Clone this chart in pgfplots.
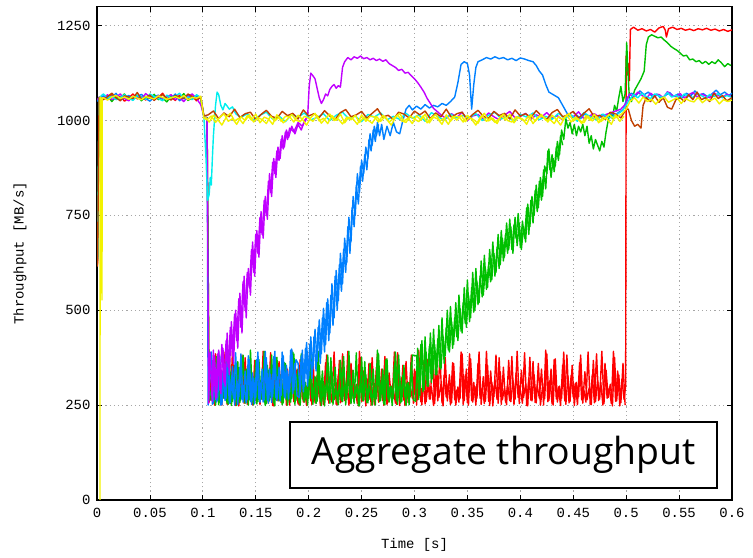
\documentclass[border=0pt]{standalone}
\usepackage{pgfplots}
\pgfplotsset{compat=1.18}
\usepackage{fontspec}
\setmainfont{Liberation Mono}
\newfontfamily\aggfont{Open Sans}
\definecolor{gpred}{RGB}{255,0,0}
\definecolor{gpgreen}{RGB}{0,192,0}
\definecolor{gpblue}{RGB}{0,128,255}
\definecolor{gppurple}{RGB}{192,0,255}
\definecolor{gpcyan}{RGB}{0,238,238}
\definecolor{gpbrown}{RGB}{192,64,0}
\definecolor{gpyellow}{RGB}{242,242,0}
\begin{document}
\begin{tikzpicture}
\useasboundingbox (0,0) rectangle (753bp,558bp);
\begin{axis}[
  at={(97bp,58bp)}, anchor=south west,
  width=635bp, height=493.3bp, scale only axis,
  xmin=0, xmax=0.6, ymin=0, ymax=1300,
  xtick={0,0.05,0.1,0.15,0.2,0.25,0.3,0.35,0.4,0.45,0.5,0.55,0.6},
  xticklabels={0,0.05,0.1,0.15,0.2,0.25,0.3,0.35,0.4,0.45,0.5,0.55,0.6},
  ytick={0,250,500,750,1000,1250},
  yticklabels={0,250,500,750,1000,1250},
  xmajorgrids, ymajorgrids,
  grid style={color=gray!70, dash pattern=on 1.2bp off 3bp, line width=0.8bp},
  major tick length=5bp,
  tick style={black, line width=0.8bp},
  axis line style={line width=1.2bp},
  tick label style={font=\fontsize{14}{16}\selectfont},
  label style={font=\fontsize{14}{16}\selectfont},
  xticklabel style={yshift=-5bp},
  yticklabel style={xshift=-3bp},
  xlabel={Time [s]}, ylabel={Throughput [MB/s]},
  xlabel style={at={(axis description cs:0.5,-0.0912)}, anchor=center},
  ylabel style={at={(axis description cs:-0.1213,0.5)}, anchor=center},
  no markers,
  every axis plot/.append style={line width=1.4bp, line join=round},
]
% red
\addplot[gpred] coordinates {
(0.0005,625)(0.002,1060)
(0.006,1062)(0.010,1055)(0.014,1068)(0.018,1058)(0.022,1064)(0.026,1051)(0.030,1060)(0.034,1070)(0.038,1057)(0.042,1063)(0.046,1054)(0.050,1066)(0.054,1059)(0.058,1061)(0.062,1072)(0.066,1056)(0.070,1062)(0.074,1053)(0.078,1067)(0.082,1060)(0.086,1058)(0.090,1065)(0.094,1052)(0.098,1063)
(0.101,1012)(0.104,1005)(0.106,258)
(0.108,330)(0.110,256)(0.112,385)(0.114,262)(0.116,310)(0.118,250)(0.120,360)(0.122,268)(0.124,295)(0.126,254)(0.128,392)(0.130,260)(0.132,340)(0.134,248)(0.136,318)(0.138,265)(0.140,375)(0.142,252)(0.144,350)(0.146,258)
(0.148,305)(0.150,262)(0.152,378)(0.154,251)(0.156,335)(0.158,270)(0.160,290)(0.162,255)(0.164,388)(0.166,249)(0.168,322)(0.170,263)(0.172,365)(0.174,257)(0.176,300)(0.178,268)(0.180,345)(0.182,250)(0.184,395)(0.186,259)
(0.188,315)(0.190,253)(0.192,370)(0.194,266)(0.196,298)(0.198,249)(0.200,355)(0.202,261)(0.204,382)(0.206,256)(0.208,328)(0.210,271)(0.212,308)(0.214,251)(0.216,362)(0.218,264)(0.220,290)(0.222,258)(0.224,390)(0.226,252)
(0.228,330)(0.230,256)(0.232,385)(0.234,262)(0.236,310)(0.238,250)(0.240,360)(0.242,268)(0.244,295)(0.246,254)(0.248,392)(0.250,260)(0.252,340)(0.254,248)(0.256,318)(0.258,265)(0.260,375)(0.262,252)(0.264,350)(0.266,258)
(0.268,305)(0.270,262)(0.272,378)(0.274,251)(0.276,335)(0.278,270)(0.280,290)(0.282,255)(0.284,388)(0.286,249)(0.288,322)(0.290,263)(0.292,365)(0.294,257)(0.296,300)(0.298,268)(0.300,345)(0.302,250)(0.304,395)(0.306,259)
(0.308,315)(0.310,253)(0.312,370)(0.314,266)(0.316,298)(0.318,249)(0.320,355)(0.322,261)(0.324,382)(0.326,256)(0.328,328)(0.330,271)(0.332,308)(0.334,251)(0.336,362)(0.338,264)(0.340,290)(0.342,258)(0.344,390)(0.346,252)
(0.348,330)(0.350,256)(0.352,385)(0.354,262)(0.356,310)(0.358,250)(0.360,360)(0.362,268)(0.364,295)(0.366,254)(0.368,392)(0.370,260)(0.372,340)(0.374,248)(0.376,318)(0.378,265)(0.380,375)(0.382,252)(0.384,350)(0.386,258)
(0.388,305)(0.390,262)(0.392,378)(0.394,251)(0.396,335)(0.398,270)(0.400,290)(0.402,255)(0.404,388)(0.406,249)(0.408,322)(0.410,263)(0.412,365)(0.414,257)(0.416,300)(0.418,268)(0.420,345)(0.422,250)(0.424,395)(0.426,259)
(0.428,315)(0.430,253)(0.432,370)(0.434,266)(0.436,298)(0.438,249)(0.440,355)(0.442,261)(0.444,382)(0.446,256)(0.448,328)(0.450,271)(0.452,308)(0.454,251)(0.456,362)(0.458,264)(0.460,290)(0.462,258)(0.464,390)(0.466,252)
(0.468,330)(0.470,256)(0.472,385)(0.474,262)(0.476,310)(0.478,250)(0.480,360)(0.482,268)(0.484,295)(0.486,254)(0.488,392)(0.490,260)(0.492,340)(0.494,248)(0.496,318)(0.498,265)
(0.4995,300)(0.500,1170)(0.501,1120)(0.502,1150)(0.503,1105)(0.504,1240)(0.507,1246)(0.511,1238)(0.515,1242)(0.519,1236)(0.523,1240)(0.527,1233)(0.531,1244)(0.535,1248)(0.537,1238)(0.538,1220)(0.540,1242)(0.544,1246)(0.548,1240)(0.552,1243)(0.556,1238)(0.560,1241)(0.564,1237)(0.568,1242)(0.572,1239)(0.576,1243)(0.580,1238)(0.584,1241)(0.588,1236)(0.592,1240)(0.596,1235)(0.600,1239)
};
\addplot[gpred] coordinates {
(0.107,262)(0.109,345)(0.111,250)(0.113,372)(0.115,258)(0.117,300)(0.119,268)(0.121,390)(0.123,252)(0.125,325)(0.127,260)(0.129,355)(0.131,249)(0.133,310)(0.135,272)(0.137,382)(0.139,255)(0.141,338)(0.143,264)(0.145,295)
(0.147,251)(0.149,368)(0.151,259)(0.153,315)(0.155,266)(0.157,392)(0.159,254)(0.161,342)(0.163,270)(0.165,305)(0.167,248)(0.169,376)(0.171,261)(0.173,330)(0.175,256)(0.177,360)(0.179,250)(0.181,298)(0.183,267)(0.185,385)
(0.187,262)(0.189,345)(0.191,250)(0.193,372)(0.195,258)(0.197,300)(0.199,268)(0.201,390)(0.203,252)(0.205,325)(0.207,260)(0.209,355)(0.211,249)(0.213,310)(0.215,272)(0.217,382)(0.219,255)(0.221,338)(0.223,264)(0.225,295)
(0.227,251)(0.229,368)(0.231,259)(0.233,315)(0.235,266)(0.237,392)(0.239,254)(0.241,342)(0.243,270)(0.245,305)(0.247,248)(0.249,376)(0.251,261)(0.253,330)(0.255,256)(0.257,360)(0.259,250)(0.261,298)(0.263,267)(0.265,385)
(0.267,262)(0.269,345)(0.271,250)(0.273,372)(0.275,258)(0.277,300)(0.279,268)(0.281,390)(0.283,252)(0.285,325)(0.287,260)(0.289,355)(0.291,249)(0.293,310)(0.295,272)(0.297,382)(0.299,255)(0.301,338)(0.303,264)(0.305,295)
(0.307,251)(0.309,368)(0.311,259)(0.313,315)(0.315,266)(0.317,392)(0.319,254)(0.321,342)(0.323,270)(0.325,305)(0.327,248)(0.329,376)(0.331,261)(0.333,330)(0.335,256)(0.337,360)(0.339,250)(0.341,298)(0.343,267)(0.345,385)
(0.347,262)(0.349,345)(0.351,250)(0.353,372)(0.355,258)(0.357,300)(0.359,268)(0.361,390)(0.363,252)(0.365,325)(0.367,260)(0.369,355)(0.371,249)(0.373,310)(0.375,272)(0.377,382)(0.379,255)(0.381,338)(0.383,264)(0.385,295)
(0.387,251)(0.389,368)(0.391,259)(0.393,315)(0.395,266)(0.397,392)(0.399,254)(0.401,342)(0.403,270)(0.405,305)(0.407,248)(0.409,376)(0.411,261)(0.413,330)(0.415,256)(0.417,360)(0.419,250)(0.421,298)(0.423,267)(0.425,385)
(0.427,262)(0.429,345)(0.431,250)(0.433,372)(0.435,258)(0.437,300)(0.439,268)(0.441,390)(0.443,252)(0.445,325)(0.447,260)(0.449,355)(0.451,249)(0.453,310)(0.455,272)(0.457,382)(0.459,255)(0.461,338)(0.463,264)(0.465,295)
(0.467,251)(0.469,368)(0.471,259)(0.473,315)(0.475,266)(0.477,392)(0.479,254)(0.481,342)(0.483,270)(0.485,305)(0.487,248)(0.489,376)(0.491,261)(0.493,330)(0.495,256)(0.497,360)(0.499,250)
};
% green
\addplot[gpgreen] coordinates {
(0.0005,635)(0.002,1060)
(0.006,1057)(0.010,1066)(0.014,1050)(0.018,1063)(0.022,1059)(0.026,1070)(0.030,1054)(0.034,1061)(0.038,1067)(0.042,1052)(0.046,1064)(0.050,1058)(0.054,1069)(0.058,1055)(0.062,1060)(0.066,1049)(0.070,1065)(0.074,1062)(0.078,1056)(0.082,1071)(0.086,1053)(0.090,1060)(0.094,1066)(0.098,1058)
(0.101,1010)(0.104,1008)(0.106,262)
(0.109,305)(0.111,262)(0.113,378)(0.115,251)(0.117,335)(0.119,270)(0.121,290)(0.123,255)(0.125,388)(0.127,249)(0.129,322)(0.131,263)(0.133,365)(0.135,257)(0.137,300)(0.139,268)(0.141,345)(0.143,250)(0.145,395)(0.147,259)
(0.149,315)(0.151,253)(0.153,370)(0.155,266)(0.157,298)(0.159,249)(0.161,355)(0.163,261)(0.165,382)(0.167,256)(0.169,328)(0.171,271)(0.173,308)(0.175,251)(0.177,362)(0.179,264)(0.181,290)(0.183,258)(0.185,390)(0.187,252)
(0.189,330)(0.191,256)(0.193,385)(0.195,262)(0.197,310)(0.199,250)(0.201,360)(0.203,268)(0.205,295)(0.207,254)(0.209,392)(0.211,260)(0.213,340)(0.215,248)(0.217,318)(0.219,265)(0.221,375)(0.223,252)(0.225,350)(0.227,258)
(0.229,305)(0.231,262)(0.233,378)(0.235,251)(0.237,335)(0.239,270)(0.241,290)(0.243,255)(0.245,388)(0.247,249)(0.249,322)(0.251,263)(0.253,365)(0.255,257)(0.257,300)(0.259,268)(0.261,345)(0.263,250)(0.265,395)(0.267,259)
(0.269,315)(0.271,253)(0.273,370)(0.275,266)(0.277,298)(0.279,249)(0.281,355)(0.283,261)(0.285,382)(0.287,256)(0.289,328)(0.291,271)(0.293,308)(0.295,251)(0.297,362)(0.299,264)
(0.301,260)(0.303,400)(0.305,275)(0.307,420)(0.309,290)(0.311,390)(0.313,300)(0.315,440)(0.317,320)(0.319,410)(0.321,330)(0.323,460)(0.325,345)(0.327,430)(0.329,380)(0.331,500)(0.333,390)(0.335,470)(0.337,410)(0.339,520)
(0.341,420)(0.343,505)(0.345,440)(0.347,560)(0.349,455)(0.351,540)(0.353,480)(0.355,600)(0.357,500)(0.359,575)(0.361,520)(0.363,630)(0.365,540)(0.367,610)(0.369,560)(0.371,660)(0.373,580)(0.375,650)(0.377,600)(0.379,700)
(0.381,620)(0.383,690)(0.385,640)(0.387,730)(0.389,660)(0.391,720)(0.393,650)(0.395,745)(0.397,670)(0.399,730)(0.401,660)(0.403,720)(0.405,680)(0.407,780)(0.409,720)(0.411,800)(0.413,750)(0.415,830)(0.417,770)(0.419,850)
(0.421,800)(0.423,880)(0.425,860)(0.427,925)(0.429,850)(0.431,900)(0.433,880)(0.435,945)(0.437,910)(0.439,975)(0.441,950)(0.443,1005)(0.445,980)(0.447,995)(0.449,965)(0.451,990)(0.453,960)(0.455,985)(0.457,970)(0.459,990)
(0.461,960)(0.463,985)(0.465,940)(0.467,960)(0.469,925)(0.471,950)(0.473,935)(0.475,920)(0.477,945)(0.479,930)(0.481,970)(0.483,1000)(0.485,1020)(0.487,1005)(0.489,1040)(0.491,1025)(0.493,1060)(0.495,1090)(0.497,1050)(0.499,1070)
(0.5005,1205)(0.5015,1140)(0.503,1060)(0.505,1050)(0.508,1080)(0.511,1095)(0.514,1110)(0.517,1130)(0.519,1200)(0.521,1220)(0.524,1226)(0.527,1222)(0.530,1218)(0.533,1220)(0.536,1212)(0.539,1205)(0.542,1196)(0.545,1190)(0.548,1185)(0.551,1178)
(0.554,1170)(0.557,1172)(0.560,1160)(0.563,1162)(0.566,1155)(0.569,1158)(0.572,1150)(0.575,1156)(0.578,1148)(0.581,1155)(0.584,1150)(0.587,1160)(0.590,1152)(0.593,1142)(0.596,1150)(0.599,1145)
};
\addplot[gpgreen] coordinates {
(0.108,262)(0.110,345)(0.112,250)(0.114,372)(0.116,258)(0.118,300)(0.120,268)(0.122,390)(0.124,252)(0.126,325)(0.128,260)(0.130,355)(0.132,249)(0.134,310)(0.136,272)(0.138,382)(0.140,255)(0.142,338)(0.144,264)(0.146,295)
(0.148,251)(0.150,368)(0.152,259)(0.154,315)(0.156,266)(0.158,392)(0.160,254)(0.162,342)(0.164,270)(0.166,305)(0.168,248)(0.170,376)(0.172,261)(0.174,330)(0.176,256)(0.178,360)(0.180,250)(0.182,298)(0.184,267)(0.186,385)
(0.188,262)(0.190,345)(0.192,250)(0.194,372)(0.196,258)(0.198,300)(0.200,268)(0.202,390)(0.204,252)(0.206,325)(0.208,260)(0.210,355)(0.212,249)(0.214,310)(0.216,272)(0.218,382)(0.220,255)(0.222,338)(0.224,264)(0.226,295)
(0.228,251)(0.230,368)(0.232,259)(0.234,315)(0.236,266)(0.238,392)(0.240,254)(0.242,342)(0.244,270)(0.246,305)(0.248,248)(0.250,376)(0.252,261)(0.254,330)(0.256,256)(0.258,360)(0.260,250)(0.262,298)(0.264,267)(0.266,385)
(0.268,262)(0.270,345)(0.272,250)(0.274,372)(0.276,258)(0.278,300)(0.280,268)(0.282,390)(0.284,252)(0.286,325)(0.288,260)(0.290,355)(0.292,249)(0.294,310)(0.296,272)(0.298,382)
(0.302,380)(0.304,265)(0.306,410)(0.308,285)(0.310,430)(0.312,300)(0.314,405)(0.316,310)(0.318,450)(0.320,330)(0.322,425)(0.324,350)(0.326,480)(0.328,360)(0.330,455)(0.332,395)(0.334,510)(0.336,400)(0.338,480)(0.340,430)
(0.342,540)(0.344,445)(0.346,520)(0.348,465)(0.350,580)(0.352,470)(0.354,560)(0.356,495)(0.358,610)(0.360,515)(0.362,590)(0.364,535)(0.366,645)(0.368,555)(0.370,620)(0.372,575)(0.374,680)(0.376,590)(0.378,665)(0.380,610)
(0.382,710)(0.384,630)(0.386,700)(0.388,650)(0.390,740)(0.392,660)(0.394,725)(0.396,690)(0.398,755)(0.400,665)(0.402,735)(0.404,690)(0.406,770)(0.408,700)(0.410,790)(0.412,730)(0.414,815)(0.416,760)(0.418,840)(0.420,790)
(0.422,870)(0.424,820)(0.426,920)(0.428,870)(0.430,910)(0.432,865)(0.434,930)(0.436,895)(0.438,960)(0.440,935)
};
% blue
\addplot[gpblue] coordinates {
(0.0005,1050)(0.002,1060)
(0.006,1065)(0.010,1058)(0.014,1061)(0.018,1072)(0.022,1054)(0.026,1060)(0.030,1066)(0.034,1056)(0.038,1063)(0.042,1069)(0.046,1058)(0.050,1051)(0.054,1062)(0.058,1067)(0.062,1055)(0.066,1064)(0.070,1059)(0.074,1070)(0.078,1052)(0.082,1061)(0.086,1066)(0.090,1057)(0.094,1063)(0.098,1060)
(0.101,1008)(0.104,1004)(0.105,250)
(0.107,385)(0.109,252)(0.111,360)(0.113,258)(0.115,392)(0.117,250)(0.119,340)(0.121,262)(0.123,375)(0.125,255)(0.127,318)(0.129,268)(0.131,388)(0.133,251)(0.135,350)(0.137,264)(0.139,300)(0.141,256)(0.143,380)(0.145,260)
(0.147,335)(0.149,254)(0.151,370)(0.153,266)(0.155,310)(0.157,258)(0.159,392)(0.161,262)(0.163,345)(0.165,257)(0.167,378)(0.169,270)(0.171,325)(0.173,261)(0.175,390)(0.177,272)(0.179,355)(0.181,266)(0.183,395)(0.185,280)
(0.187,360)(0.189,275)
(0.191,270)(0.193,380)(0.195,285)(0.197,400)(0.199,300)(0.201,410)(0.203,320)(0.205,430)(0.207,340)(0.209,455)(0.211,360)(0.213,480)(0.215,390)(0.217,520)(0.219,420)(0.221,540)(0.223,460)(0.225,590)(0.227,500)(0.229,620)
(0.231,550)(0.233,660)(0.235,600)(0.237,720)(0.239,650)(0.241,770)(0.243,720)(0.245,830)(0.247,780)(0.249,880)(0.251,840)(0.253,910)(0.255,870)(0.257,950)(0.259,920)(0.261,975)(0.263,945)(0.265,995)(0.267,960)(0.269,990)
(0.271,950)(0.274,985)(0.277,960)(0.280,995)(0.283,970)(0.286,965)(0.289,1000)(0.292,1030)(0.295,1040)(0.298,1028)(0.302,1038)(0.306,1030)(0.310,1042)(0.314,1033)(0.318,1040)(0.322,1036)(0.326,1045)(0.330,1040)(0.334,1050)(0.338,1062)
(0.341,1100)(0.344,1148)(0.347,1155)(0.350,1150)(0.352,1120)(0.354,1030)(0.356,1095)(0.358,1140)(0.360,1155)(0.364,1160)(0.368,1166)(0.372,1162)(0.376,1168)(0.380,1163)(0.384,1166)(0.388,1160)(0.392,1164)(0.396,1158)(0.400,1165)(0.404,1162)
(0.408,1158)(0.412,1155)(0.415,1145)(0.418,1130)(0.421,1120)(0.424,1095)(0.427,1075)(0.430,1070)(0.433,1065)(0.436,1060)(0.439,1045)(0.442,1030)(0.445,1015)(0.449,1008)(0.453,1015)(0.457,1005)(0.461,1018)(0.465,1008)(0.469,1012)(0.473,1003)
(0.477,1016)(0.481,1010)(0.485,1020)(0.489,1012)(0.493,1022)(0.497,1028)(0.501,1060)(0.505,1072)(0.509,1065)(0.513,1078)(0.517,1068)(0.521,1075)(0.525,1062)(0.529,1070)(0.533,1058)(0.537,1066)(0.541,1074)(0.545,1063)(0.549,1070)(0.553,1060)
(0.557,1072)(0.561,1065)(0.565,1078)(0.569,1066)(0.573,1071)(0.577,1062)(0.581,1070)(0.585,1080)(0.589,1068)(0.593,1075)(0.597,1066)(0.600,1072)
};
\addplot[gpblue] coordinates {
(0.106,300)(0.108,390)(0.110,255)(0.112,345)(0.114,262)(0.116,380)(0.118,251)(0.120,330)(0.122,268)(0.124,395)(0.126,256)(0.128,352)(0.130,250)(0.132,315)(0.134,272)(0.136,385)(0.138,258)(0.140,340)(0.142,265)(0.144,370)
(0.146,252)(0.148,320)(0.150,269)(0.152,390)(0.154,257)(0.156,345)(0.158,264)(0.160,375)(0.162,255)(0.164,330)(0.166,273)(0.168,392)(0.170,262)(0.172,350)(0.174,276)(0.176,380)(0.178,268)(0.180,340)(0.182,285)(0.184,398)
(0.186,290)(0.188,370)(0.190,360)(0.192,285)(0.194,395)(0.196,300)(0.198,415)(0.200,320)(0.202,430)(0.204,345)(0.206,450)(0.208,365)(0.210,475)(0.212,385)(0.214,505)(0.216,410)(0.218,530)(0.220,440)(0.222,570)(0.224,480)
(0.226,605)(0.228,525)(0.230,650)(0.232,570)(0.234,690)(0.236,625)(0.238,745)(0.240,680)(0.242,800)(0.244,750)(0.246,860)(0.248,810)(0.250,895)(0.252,860)(0.254,930)(0.256,900)(0.258,965)(0.260,935)(0.262,985)(0.264,960)
(0.266,990)
};
% purple
\addplot[gppurple] coordinates {
(0.0005,1055)(0.002,1062)
(0.006,1059)(0.010,1068)(0.014,1055)(0.018,1062)(0.022,1070)(0.026,1058)(0.030,1052)(0.034,1064)(0.038,1060)(0.042,1057)(0.046,1071)(0.050,1062)(0.054,1054)(0.058,1066)(0.062,1059)(0.066,1063)(0.070,1068)(0.074,1055)(0.078,1061)(0.082,1050)(0.086,1064)(0.090,1070)(0.094,1058)(0.098,1042)
(0.101,1012)(0.104,1006)(0.1055,255)
(0.107,390)(0.109,260)(0.111,380)(0.113,270)(0.115,395)(0.117,280)(0.119,400)(0.121,300)(0.123,440)(0.125,330)(0.127,470)(0.129,360)(0.131,500)(0.133,400)(0.135,545)(0.137,440)(0.139,590)(0.141,480)(0.143,610)(0.145,540)
(0.147,680)(0.149,590)(0.151,710)(0.153,640)(0.155,760)(0.157,690)(0.159,800)(0.161,740)(0.163,860)(0.165,800)(0.167,900)(0.169,850)(0.171,930)(0.173,900)(0.175,960)(0.177,930)(0.179,975)(0.181,955)(0.184,985)(0.187,965)
(0.190,990)(0.193,975)(0.196,1000)(0.199,1010)(0.2005,1090)(0.202,1125)(0.204,1118)(0.206,1110)(0.208,1085)(0.210,1060)(0.212,1045)(0.214,1055)(0.216,1070)(0.218,1065)(0.220,1082)(0.222,1090)(0.224,1095)(0.226,1085)(0.228,1092)(0.230,1088)
(0.232,1140)(0.234,1155)(0.237,1166)(0.240,1160)(0.243,1168)(0.246,1164)(0.249,1170)(0.252,1163)(0.255,1166)(0.258,1160)(0.261,1164)(0.264,1158)(0.267,1162)(0.270,1156)(0.273,1160)(0.276,1150)(0.279,1145)(0.282,1140)(0.285,1132)(0.288,1135)
(0.291,1125)(0.294,1127)(0.297,1118)(0.300,1110)(0.303,1100)(0.306,1088)(0.309,1075)(0.312,1058)(0.315,1045)(0.318,1032)(0.321,1025)(0.325,1015)
(0.330,1005)(0.335,1018)(0.340,1008)(0.345,1022)(0.350,1000)(0.355,1012)(0.360,1016)(0.365,1004)(0.370,1020)(0.375,1010)(0.380,1002)(0.385,1014)(0.390,1024)(0.395,1007)(0.400,1011)(0.405,1019)(0.410,1003)(0.415,1015)(0.420,1009)(0.425,1021)
(0.430,1006)(0.435,1013)(0.440,1001)(0.445,1017)(0.450,1010)(0.455,1023)(0.460,1005)(0.465,1012)(0.470,1018)(0.475,1008)(0.480,1015)(0.485,1020)(0.490,1025)(0.495,1030)(0.500,1045)
(0.503,1070)(0.507,1062)(0.511,1075)(0.515,1066)(0.519,1058)(0.523,1072)(0.527,1064)(0.531,1069)(0.535,1060)(0.539,1076)(0.543,1067)(0.547,1063)(0.551,1071)(0.555,1059)(0.559,1068)(0.563,1074)(0.567,1062)(0.571,1070)(0.575,1065)(0.579,1060)
(0.583,1073)(0.587,1066)(0.591,1061)(0.595,1069)(0.599,1064)
};
\addplot[gppurple] coordinates {
(0.108,275)(0.110,395)(0.112,265)(0.114,385)(0.116,290)(0.118,410)(0.120,310)(0.122,420)(0.124,350)(0.126,455)(0.128,380)(0.130,490)(0.132,420)(0.134,530)(0.136,455)(0.138,575)(0.140,500)(0.142,600)(0.144,560)(0.146,660)
(0.148,600)(0.150,700)(0.152,650)(0.154,745)(0.156,700)(0.158,790)(0.160,750)(0.162,840)(0.164,810)(0.166,890)(0.168,860)(0.170,920)(0.172,895)(0.174,950)(0.176,925)(0.178,970)(0.180,950)(0.182,980)(0.186,970)(0.190,995)
(0.194,985)(0.198,1005)
};
% cyan
\addplot[gpcyan] coordinates {
(0.0005,630)(0.002,1060)
(0.006,1070)(0.010,1060)(0.014,1064)(0.018,1055)(0.022,1061)(0.026,1068)(0.030,1059)(0.034,1053)(0.038,1066)(0.042,1062)(0.046,1056)(0.050,1070)(0.054,1063)(0.058,1058)(0.062,1052)(0.066,1067)(0.070,1060)(0.074,1064)(0.078,1072)(0.082,1057)(0.086,1062)(0.090,1055)(0.094,1068)(0.098,1061)
(0.101,1010)(0.103,900)(0.1045,790)(0.106,805)(0.107,850)(0.108,830)(0.109,900)(0.110,960)(0.112,1040)(0.1135,1075)(0.115,1068)(0.117,1040)(0.119,1028)(0.121,1045)(0.123,1038)(0.125,1030)(0.128,1036)(0.131,1018)
(0.136,1008)(0.142,1018)(0.148,1000)(0.154,1014)(0.160,1022)(0.166,1004)(0.172,1012)(0.178,997)(0.184,1016)(0.190,1009)(0.196,1020)(0.202,1002)
(0.208,1008)(0.214,1018)(0.220,1000)(0.226,1014)(0.232,1022)(0.238,1004)(0.244,1012)(0.250,997)(0.256,1016)(0.262,1009)(0.268,1020)(0.274,1002)
(0.280,1011)(0.286,1003)(0.292,1019)(0.298,1006)(0.304,1015)(0.310,998)(0.316,1021)(0.322,1010)(0.328,1001)(0.334,1017)(0.340,1007)(0.346,1013)
(0.352,1008)(0.358,1018)(0.364,1000)(0.370,1014)(0.376,1022)(0.382,1004)(0.388,1012)(0.394,997)(0.400,1016)(0.406,1009)(0.412,1020)(0.418,1002)
(0.424,1011)(0.430,1003)(0.436,1019)(0.442,1006)(0.448,1015)(0.454,998)(0.460,1021)(0.466,1010)(0.472,1001)(0.478,1017)(0.484,1007)(0.490,1013)
(0.496,1025)(0.500,1040)
(0.503,1055)(0.507,1068)(0.511,1060)(0.515,1072)(0.519,1063)(0.523,1058)(0.527,1070)(0.531,1065)(0.535,1060)(0.539,1074)(0.543,1062)(0.547,1067)(0.551,1058)(0.555,1070)(0.559,1064)(0.563,1061)(0.567,1072)(0.571,1066)(0.575,1059)(0.579,1069)
(0.583,1063)(0.587,1071)(0.591,1060)(0.595,1066)(0.599,1062)
};
% brown
\addplot[gpbrown] coordinates {
(0.0005,615)(0.002,1060)
(0.006,1055)(0.010,1063)(0.014,1072)(0.018,1060)(0.022,1052)(0.026,1065)(0.030,1062)(0.034,1058)(0.038,1074)(0.042,1056)(0.046,1061)(0.050,1067)(0.054,1053)(0.058,1063)(0.062,1068)(0.066,1059)(0.070,1054)(0.074,1066)(0.078,1062)(0.082,1058)(0.086,1070)(0.090,1063)(0.094,1056)(0.098,1060)
(0.101,1012)
(0.105,1015)(0.110,1025)(0.115,1005)(0.120,1020)(0.125,1010)(0.130,1030)(0.135,1008)(0.140,1018)(0.145,1022)(0.150,1002)(0.155,1016)(0.160,1027)(0.165,1011)(0.170,1006)(0.175,1024)(0.180,1013)(0.185,1019)(0.190,1004)(0.195,1028)(0.200,1012)
(0.205,1018)(0.210,1008)(0.215,1026)(0.220,1012)(0.225,1003)(0.230,1021)(0.235,1029)(0.240,1010)(0.245,1015)(0.250,1024)(0.255,1006)(0.260,1019)(0.265,1031)(0.270,1009)(0.275,1014)(0.280,1003)(0.285,1022)(0.290,1017)(0.295,1007)(0.300,1025)
(0.305,1015)(0.310,1025)(0.315,1005)(0.320,1020)(0.325,1010)(0.330,1030)(0.335,1008)(0.340,1018)(0.345,1022)(0.350,1002)(0.355,1016)(0.360,1027)(0.365,1011)(0.370,1006)(0.375,1024)(0.380,1013)(0.385,1019)(0.390,1004)(0.395,1028)(0.400,1012)
(0.405,1018)(0.410,1008)(0.415,1026)(0.420,1012)(0.425,1003)(0.430,1021)(0.435,1029)(0.440,1010)(0.445,1015)(0.450,1024)(0.455,1006)(0.460,1019)(0.465,1031)(0.470,1009)(0.475,1014)(0.480,1003)(0.485,1022)(0.490,1017)(0.495,1007)
(0.500,1030)(0.502,1030)(0.505,1000)(0.508,985)(0.511,990)(0.514,980)(0.516,1040)(0.519,1060)(0.523,1050)(0.527,1065)(0.531,1048)(0.535,1060)(0.539,1035)(0.543,1030)(0.547,1055)(0.551,1060)(0.555,1050)(0.559,1068)(0.563,1055)(0.567,1075)
(0.571,1055)(0.575,1060)(0.579,1050)(0.583,1072)(0.587,1058)(0.591,1066)(0.595,1052)(0.600,1060)
};
% yellow
\addplot[gpyellow] coordinates {
(0.0028,0)(0.003,1062)(0.004,1058)(0.0047,527)(0.005,1060)
(0.006,1060)(0.010,1054)(0.014,1062)(0.018,1066)(0.022,1058)(0.026,1062)(0.030,1056)(0.034,1064)(0.038,1059)(0.042,1055)(0.046,1063)(0.050,1060)(0.054,1057)(0.058,1065)(0.062,1061)(0.066,1056)(0.070,1060)(0.074,1063)(0.078,1058)(0.082,1066)(0.086,1055)(0.090,1061)(0.094,1059)(0.098,1064)
(0.101,1006)
(0.104,1002)(0.108,1012)(0.112,995)(0.116,1008)(0.120,1018)(0.124,998)(0.128,1005)(0.132,990)(0.136,1010)(0.140,1000)(0.144,1015)(0.148,996)(0.152,1007)(0.156,1003)(0.160,992)(0.164,1012)(0.168,999)(0.172,1009)(0.176,994)(0.180,1004)
(0.184,1016)(0.188,1001)(0.192,997)(0.196,1011)(0.200,1006)(0.204,998)(0.208,1013)(0.212,993)(0.216,1006)(0.220,1017)(0.224,1000)(0.228,1004)(0.232,991)(0.236,1009)(0.240,1002)(0.244,1014)(0.248,995)(0.252,1008)(0.256,1001)(0.260,993)
(0.264,1011)(0.268,998)(0.272,1010)(0.276,996)(0.280,1005)(0.284,1015)(0.288,999)(0.292,995)(0.296,1012)(0.300,1004)(0.304,997)(0.308,1012)(0.312,994)(0.316,1007)(0.320,1016)(0.324,999)(0.328,1006)(0.332,990)(0.336,1011)(0.340,1001)
(0.344,1014)(0.348,997)(0.352,1008)(0.356,1002)(0.360,993)(0.364,1013)(0.368,998)(0.372,1008)(0.376,995)(0.380,1005)(0.384,1017)(0.388,1000)(0.392,996)(0.396,1010)(0.400,1005)(0.404,999)(0.408,1012)(0.412,992)(0.416,1007)(0.420,1016)
(0.424,1001)(0.428,1003)(0.432,992)(0.436,1010)(0.440,1003)(0.444,1015)(0.448,996)(0.452,1009)(0.456,1000)(0.460,994)(0.464,1012)(0.468,999)(0.472,1011)(0.476,997)(0.480,1006)(0.484,1016)(0.488,1005)(0.492,1010)(0.496,1018)(0.500,1030)
(0.504,1052)(0.508,1060)(0.512,1046)(0.516,1062)(0.520,1050)(0.524,1056)(0.528,1043)(0.532,1057)(0.536,1062)(0.540,1048)(0.544,1054)(0.548,1060)(0.552,1045)(0.556,1058)(0.560,1052)(0.564,1049)(0.568,1061)(0.572,1047)(0.576,1056)(0.580,1053)
(0.584,1059)(0.588,1044)(0.592,1055)(0.596,1050)(0.600,1054)
};
\addplot[gpyellow] coordinates {
(0.102,1010)(0.106,996)(0.110,1014)(0.114,1003)(0.118,988)(0.122,1008)(0.126,1019)(0.130,999)(0.134,1006)(0.138,992)(0.142,1013)(0.146,1001)(0.150,1017)(0.154,994)(0.158,1009)(0.162,1004)(0.166,990)(0.170,1015)(0.174,998)(0.178,1011)
(0.182,1010)(0.186,996)(0.190,1014)(0.194,1003)(0.198,988)(0.202,1008)(0.206,1019)(0.210,999)(0.214,1006)(0.218,992)(0.222,1013)(0.226,1001)(0.230,1017)(0.234,994)(0.238,1009)(0.242,1004)(0.246,990)(0.250,1015)(0.254,998)(0.258,1011)
(0.262,1010)(0.266,996)(0.270,1014)(0.274,1003)(0.278,988)(0.282,1008)(0.286,1019)(0.290,999)(0.294,1006)(0.298,992)(0.302,1013)(0.306,1001)(0.310,1017)(0.314,994)(0.318,1009)(0.322,1004)(0.326,990)(0.330,1015)(0.334,998)(0.338,1011)
(0.342,1010)(0.346,996)(0.350,1014)(0.354,1003)(0.358,988)(0.362,1008)(0.366,1019)(0.370,999)(0.374,1006)(0.378,992)(0.382,1013)(0.386,1001)(0.390,1017)(0.394,994)(0.398,1009)(0.402,1004)(0.406,990)(0.410,1015)(0.414,998)(0.418,1011)
(0.422,1010)(0.426,996)(0.430,1014)(0.434,1003)(0.438,988)(0.442,1008)(0.446,1019)(0.450,999)(0.454,1006)(0.458,992)(0.462,1013)(0.466,1001)(0.470,1017)(0.474,994)(0.478,1009)(0.482,1004)(0.486,990)(0.490,1015)(0.494,998)(0.498,1011)
};
\node[draw=black, line width=1.5bp, fill=white, minimum width=427bp, minimum height=66bp, inner sep=0pt]
  at (axis cs:0.3842,118.6) {\aggfont\fontsize{37.5}{42}\selectfont Aggregate throughput};
\end{axis}
\end{tikzpicture}
\end{document}
